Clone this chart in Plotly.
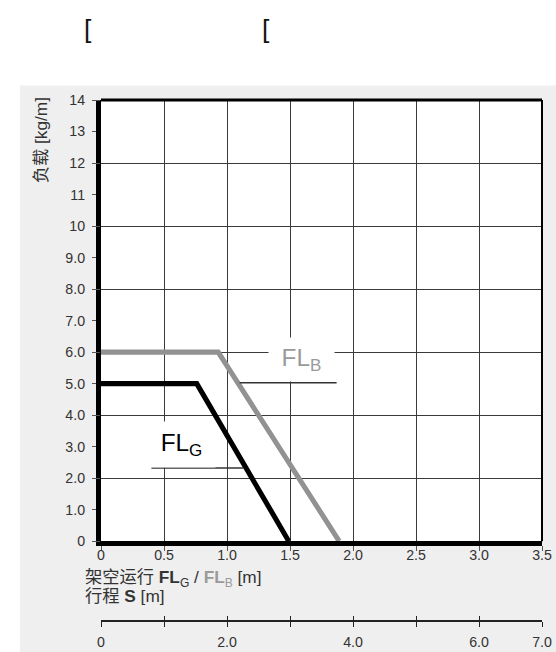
import plotly.graph_objects as go

# ---- data ----
fl_g_x = [0, 0.76, 1.49]
fl_g_y = [5.0, 5.0, 0.0]
fl_b_x = [0, 0.93, 1.89]
fl_b_y = [6.0, 6.0, 0.0]

x_tickvals = [0, 0.5, 1.0, 1.5, 2.0, 2.5, 3.0, 3.5]
x_ticktext = ["0", "0.5", "1.0", "1.5", "2.0", "2.5", "3.0", "3.5"]
s_tickvals = [0, 1.0, 2.0, 3.0, 3.5]          # positions on the FL scale
s_ticktext = ["0", "2.0", "4.0", "6.0", "7.0"]  # travel S
y_tickvals = list(range(0, 15))
y_ticktext = ["0", "1.0", "2.0", "3.0", "4.0", "5.0", "6.0", "7.0", "8.0", "9.0",
              "10", "11", "12", "13", "14"]
y_gridvals = [0, 2, 4, 6, 8, 10, 12, 14]

# the captured picture comes out slightly reduced; compensate
K = 0.9855


def s(v):
    return v / K


W, H = round(556 / K), round(652 / K)
# screen-space geometry of the plot area
SX0, SX1, SY0, SY_AX, SY_S = 100, 543, 99, 540, 620
L, R, T = round(s(SX0)), W - round(s(SX1)), round(s(SY0))
B = H - round(s(SY_S))
PW, PH = W - L - R, H - T - B


def px(xs):
    return (s(xs) - L) / PW


def py(ys):
    return (H - B - s(ys)) / PH


ydom0 = py(SY_AX)
TXT = "#333333"
GRID = "#3a3a3a"
GRAY = "#929292"
BG = "#efefef"
CJK = "Liberation Sans, Noto Sans CJK SC, sans-serif"

fig = go.Figure()
fig.add_trace(go.Scatter(x=fl_b_x, y=fl_b_y, mode="lines",
                         line=dict(color=GRAY, width=s(5)), showlegend=False, hoverinfo="skip"))
fig.add_trace(go.Scatter(x=fl_g_x, y=fl_g_y, mode="lines",
                         line=dict(color="black", width=s(5)), showlegend=False, hoverinfo="skip"))
# helper traces so overlay axes are drawn
for xa, ya in (("x2", "y"), ("x3", "y"), ("x4", "y"), ("x", "y2")):
    fig.add_trace(go.Scatter(x=[0, 3.5], y=[0, 0], xaxis=xa, yaxis=ya, mode="lines",
                             opacity=0, showlegend=False, hoverinfo="skip"))

TF = dict(size=s(14), color=TXT)
fig.update_layout(
    width=W, height=H,
    margin=dict(l=L, r=R, t=T, b=B),
    paper_bgcolor=BG,
    plot_bgcolor="white",
    font=dict(family=CJK, color=TXT, size=s(14)),
    xaxis=dict(range=[0, 3.5], anchor="y", tickvals=x_tickvals, ticktext=x_ticktext,
               showgrid=True, gridcolor=GRID, gridwidth=1, zeroline=False,
               showline=True, linecolor="black", linewidth=s(5),
               ticks="outside", ticklen=s(5), tickcolor="#555", tickwidth=1.2,
               ticklabelstandoff=-8, tickfont=TF),
    # travel axis S: labels
    xaxis2=dict(range=[0, 3.5], overlaying="x", anchor="free", position=0,
                tickvals=s_tickvals, ticktext=s_ticktext, showgrid=False, zeroline=False,
                showline=True, linecolor="#222", linewidth=1.5,
                ticks="outside", ticklen=s(5), tickcolor="#222", tickwidth=1.2,
                ticklabelstandoff=3, tickfont=TF),
    # travel axis S: tick marks crossing the line
    xaxis3=dict(range=[0, 3.5], overlaying="x", anchor="free", position=0,
                tickvals=x_tickvals, showticklabels=False, showgrid=False, zeroline=False,
                showline=False, ticks="inside", ticklen=s(5), tickcolor="#222", tickwidth=1.2),
    xaxis4=dict(range=[0, 3.5], overlaying="x", anchor="free", position=0,
                tickvals=x_tickvals, showticklabels=False, showgrid=False, zeroline=False,
                showline=False, ticks="outside", ticklen=s(5), tickcolor="#222", tickwidth=1.2),
    yaxis=dict(range=[0, 14], domain=[ydom0, 1], tickvals=y_tickvals, ticktext=y_ticktext,
               showgrid=False, zeroline=False, showline=True, linecolor="black", linewidth=s(5),
               ticks="outside", ticklen=s(4), tickcolor="#555", tickwidth=1.2,
               ticklabelstandoff=4, tickfont=TF),
    yaxis2=dict(range=[0, 14], overlaying="y", side="left", tickvals=y_gridvals,
                showticklabels=False, showgrid=True, gridcolor=GRID, gridwidth=1,
                zeroline=False, showline=False, ticks="outside", ticklen=s(8),
                tickcolor="#555", tickwidth=1.2),
)

shapes = [
    # white page area above and left of the gray panel
    dict(type="rect", xref="paper", yref="paper", x0=-0.5, x1=1.5, y0=py(84), y1=1.5,
         fillcolor="white", line=dict(width=0), layer="below"),
    dict(type="rect", xref="paper", yref="paper", x0=-0.5, x1=px(18), y0=-0.5, y1=1.5,
         fillcolor="white", line=dict(width=0), layer="below"),
    # top and right frame
    dict(type="line", xref="x domain", yref="y domain", x0=0, x1=1, y0=1, y1=1,
         line=dict(color="black", width=s(3))),
    dict(type="line", xref="x domain", yref="y domain", x0=1, x1=1, y0=0, y1=1,
         line=dict(color="black", width=2)),
    # leader lines under the curve labels
    dict(type="line", xref="x", yref="y", x0=1.1, x1=1.87, y0=5.03, y1=5.03,
         line=dict(color="#333", width=1.5)),
    dict(type="line", xref="x", yref="y", x0=0.40, x1=1.13, y0=2.32, y1=2.32,
         line=dict(color="#333", width=1.5)),
]
fig.update_layout(shapes=shapes)

annotations = [
    dict(text="[", xref="paper", yref="paper", x=px(86), y=py(28), showarrow=False,
         font=dict(size=s(26), color="#111"), xanchor="center", yanchor="middle"),
    dict(text="[", xref="paper", yref="paper", x=px(265), y=py(28), showarrow=False,
         font=dict(size=s(26), color="#111"), xanchor="center", yanchor="middle"),
    dict(text="负载 [kg/m]", xref="paper", yref="paper", x=px(40), y=py(94),
         textangle=-90, showarrow=False, font=dict(size=s(17), color=TXT),
         xanchor="center", yanchor="top"),
    dict(text='架空运行 <b>FL</b><sub>G</sub> / <span style="color:#9a9a9a">'
              '<b>FL</b><sub>B</sub></span> [m]',
         xref="paper", yref="paper", x=px(81), y=py(577), showarrow=False,
         font=dict(size=s(17), color=TXT), xanchor="left", yanchor="middle"),
    dict(text="行程 <b>S</b> [m]", xref="paper", yref="paper", x=px(81), y=py(595),
         showarrow=False, font=dict(size=s(17), color=TXT), xanchor="left", yanchor="middle"),
    # curve labels with white box
    dict(text="FL<sub>B</sub>", xref="x", yref="y", x=1.595, y=5.75, showarrow=False,
         font=dict(size=s(24), color="#9a9a9a"), bgcolor="white", width=s(62), height=s(40),
         xanchor="center", yanchor="middle"),
    dict(text="FL<sub>G</sub>", xref="x", yref="y", x=0.64, y=3.08, showarrow=False,
         font=dict(size=s(24), color="black"), bgcolor="white", width=s(64), height=s(42),
         xanchor="center", yanchor="middle"),
]
fig.update_layout(annotations=annotations)

fig.write_html("out.html",
               config={"displayModeBar": False},
               post_script="document.body.style.margin='0';"
                           "document.body.style.overflow='hidden';")
